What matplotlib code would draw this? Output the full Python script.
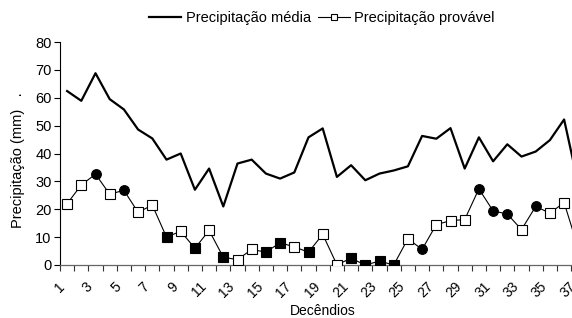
import matplotlib
matplotlib.use('Agg')
import matplotlib.pyplot as plt
import matplotlib.transforms as mtransforms
from matplotlib.lines import Line2D

plt.rcParams['font.family'] = ['Liberation Sans', 'DejaVu Sans']
plt.rcParams['font.size'] = 9.5

# Decêndios 1..37
decendios = list(range(1, 38))

# Precipitação média (mm)
media = [62.4, 58.9, 68.8, 59.5, 55.8, 48.6, 45.4, 37.8, 40.0, 27.0,
         34.6, 21.0, 36.4, 37.8, 32.8, 31.0, 33.2, 45.8, 49.0, 31.6,
         35.8, 30.4, 32.8, 33.9, 35.4, 46.3, 45.3, 49.1, 34.6, 45.8,
         37.2, 43.3, 38.9, 40.7, 44.8, 52.2, 29.0]

# Precipitação provável (mm)
provavel = [22.0, 28.7, 32.6, 25.4, 26.8, 18.9, 21.5, 10.0, 12.1, 6.0,
            12.4, 2.8, 1.9, 5.6, 4.6, 8.0, 6.5, 4.6, 11.0, 0.1,
            2.4, 0.0, 1.4, 0.0, 9.4, 5.6, 14.5, 15.9, 16.3, 27.3,
            19.4, 18.3, 12.7, 21.0, 18.6, 22.4, 6.0]

# marker kind for each point: e = open square, f = filled square, c = filled circle
marcador = ['e', 'e', 'c', 'e', 'c', 'e', 'e', 'f', 'e', 'f',
            'e', 'f', 'e', 'e', 'f', 'f', 'e', 'f', 'e', 'e',
            'f', 'f', 'f', 'f', 'e', 'c', 'e', 'e', 'e', 'c',
            'c', 'c', 'e', 'c', 'e', 'e', 'e']

yticks = [0, 10, 20, 30, 40, 50, 60, 70, 80]
xlabels = list(range(1, 38, 2))

W, H = 572, 318
fig = plt.figure(figsize=(W / 100, H / 100), dpi=100)
# plot area runs past the right edge like the original (cropped) picture
left, bottom, top = 60, 265, 42
width = 37 * 14.2
ax = fig.add_axes([left / W, (H - bottom) / H, width / W, (bottom - top) / H])

ax.plot(decendios, media, color='black', lw=1.6, zorder=3)
ax.plot(decendios, provavel, color='black', lw=0.8, zorder=2)

estilos = {
    'e': dict(marker='s', mfc='white', mec='black', ms=6.5, mew=0.8),
    'f': dict(marker='s', mfc='black', mec='black', ms=6.5, mew=0.8),
    'c': dict(marker='o', mfc='black', mec='black', ms=7, mew=0.8),
}
for k, st in estilos.items():
    xs = [x for x, m in zip(decendios, marcador) if m == k]
    ys = [y for y, m in zip(provavel, marcador) if m == k]
    ax.plot(xs, ys, ls='none', zorder=4, **st)

ax.set_xlim(0.5, 37.5)
ax.set_ylim(0, 80)
ax.set_yticks(yticks)
ax.tick_params(axis='y', direction='out', length=4, width=0.8, pad=2, labelsize=10.5)

# tick marks between categories, labels on odd categories
ax.set_xticks([i + 0.5 for i in range(0, 38)], minor=True)
ax.set_xticks(xlabels)
ax.set_xticklabels([str(v) for v in xlabels], rotation=45, ha='right', va='center',
                   rotation_mode='anchor', fontsize=10)
ax.tick_params(axis='x', which='major', length=0, pad=14)
ax.tick_params(axis='x', which='minor', direction='out', length=4, width=0.8, color='#333333')
shift = mtransforms.ScaledTranslation(-5 / 100, 0, fig.dpi_scale_trans)
for lab in ax.get_xticklabels():
    lab.set_transform(lab.get_transform() + shift)

for s in ['top', 'right']:
    ax.spines[s].set_visible(False)
ax.spines['left'].set_linewidth(0.8)
ax.spines['bottom'].set_linewidth(0.9)
ax.spines['bottom'].set_color('#666666')

ax.set_ylabel('Precipitação (mm)   .', fontsize=10.5)
ax.yaxis.set_label_coords(-35 / width, 0.47)
ax.set_xlabel('Decêndios', fontsize=10)
ax.xaxis.set_label_coords(0.5, -(304 - 265) / 223)

handles = [
    Line2D([], [], color='black', lw=1.6),
    Line2D([], [], color='black', lw=0.8, marker='s', mfc='white', mec='black', ms=4.5, mew=0.8),
]
fig.legend(handles, ['Precipitação média', 'Precipitação provável'], loc='center',
           bbox_to_anchor=(322 / W, 1 - 18 / H), ncol=2, frameon=False, fontsize=10.5,
           handlelength=2.2, handletextpad=0.3, columnspacing=0.5)

fig.savefig('out.png', dpi=100)
